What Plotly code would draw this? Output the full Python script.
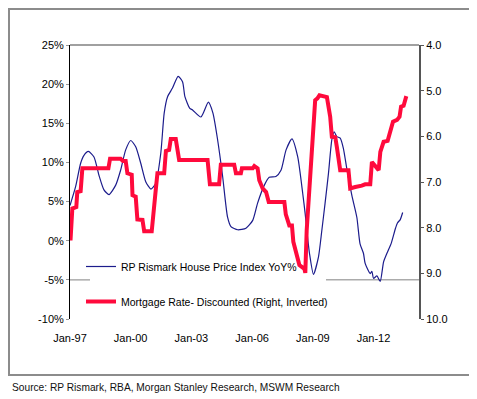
import plotly.graph_objects as go

# ---------------- data ----------------
hpi_dates = ["1997-01-01", "1997-04-12", "1997-07-12", "1997-09-10", "1997-11-28", "1998-03-10",
             "1998-06-06", "1998-09-06", "1998-12-06", "1999-04-06", "1999-07-03", "1999-10-03",
             "2000-01-03", "2000-04-01", "2000-07-01", "2000-10-01", "2001-01-01", "2001-03-28",
             "2001-06-28", "2001-08-28", "2001-10-28", "2002-01-25", "2002-05-06", "2002-07-25",
             "2002-09-06", "2002-12-03", "2003-01-22", "2003-06-22", "2003-11-03", "2004-01-25",
             "2004-04-18", "2004-07-18", "2004-10-15", "2004-12-15", "2005-04-15", "2005-09-12",
             "2006-01-12", "2006-04-10", "2006-08-10", "2006-11-06", "2007-03-06", "2007-06-06",
             "2007-09-06", "2007-12-21", "2008-04-03", "2008-07-03", "2008-08-15", "2008-10-03",
             "2008-11-01", "2009-01-12", "2009-04-12", "2009-06-12", "2009-08-10", "2009-10-10",
             "2009-12-10", "2010-01-22", "2010-03-10", "2010-05-10", "2010-07-06", "2010-09-06",
             "2010-12-06", "2011-03-06", "2011-05-03", "2011-07-03", "2011-08-03", "2011-11-03",
             "2011-12-03", "2012-01-01", "2012-03-03", "2012-05-01", "2012-07-01", "2012-09-12",
             "2012-11-12", "2013-02-01", "2013-03-10", "2013-04-28", "2013-06-10"]
hpi_values = [4.5, 6.9, 9.9, 10.9, 11.4, 10.7,
              8.4, 6.5, 5.9, 7.1, 9.0, 11.6,
              12.8, 12.0, 9.9, 7.5, 6.6, 7.3,
              11.2, 16.3, 18.4, 19.5, 21.0, 20.3,
              18.4, 16.9, 16.7, 15.8, 17.7, 16.3,
              12.9, 8.2, 3.0, 1.8, 1.4, 1.6,
              2.6, 4.8, 7.1, 8.1, 8.2, 9.0,
              11.6, 13.0, 10.7, 6.0, 3.5, 0.1,
              -1.6, -4.3, -2.1, 1.3, 4.8, 8.6,
              12.9, 13.9, 13.3, 13.1, 11.8, 9.2,
              5.8, 3.0, -0.4, -1.6, -2.9, -4.2,
              -3.9, -4.8, -4.5, -5.2, -2.7, -1.4,
              -0.4, 1.6, 2.3, 2.7, 3.6]

rate_dates = ["1997-01-10", "1997-02-12", "1997-04-25", "1997-05-12", "1997-07-12", "1997-08-12",
              "1998-11-25", "1998-12-25", "1999-07-03", "1999-08-15", "1999-10-03", "1999-11-03",
              "2000-01-20", "2000-02-03", "2000-04-01", "2000-05-01", "2000-08-01", "2000-09-01",
              "2001-01-15", "2001-02-10", "2001-03-28", "2001-04-28", "2001-08-28", "2001-09-28",
              "2001-11-25", "2001-12-25", "2002-03-25", "2002-05-25", "2003-10-20", "2003-12-01",
              "2004-05-15", "2004-06-15", "2005-02-12", "2005-03-15", "2005-06-12", "2005-07-01",
              "2006-01-12", "2006-02-10", "2006-04-10", "2006-05-10", "2006-07-10", "2006-09-10",
              "2006-10-28", "2007-08-06", "2007-09-01", "2007-11-03", "2007-12-21", "2008-01-15",
              "2008-03-03", "2008-05-03", "2008-08-01", "2008-08-18", "2008-09-12", "2008-11-12",
              "2009-01-01", "2009-01-25", "2009-02-12", "2009-03-25", "2009-05-01", "2009-09-12",
              "2009-11-10", "2009-12-10", "2010-02-10", "2010-03-10", "2010-05-10", "2010-10-06",
              "2010-11-06", "2011-02-06", "2011-04-03", "2011-06-03", "2011-08-03", "2011-11-03",
              "2011-12-03", "2012-02-03", "2012-04-03", "2012-05-03", "2012-07-01", "2012-09-12",
              "2012-11-01", "2012-12-18", "2013-03-01", "2013-04-15", "2013-05-12", "2013-06-27",
              "2013-08-15"]
rate_values = [8.28, 7.58, 7.55, 7.22, 7.20, 6.70,
               6.70, 6.49, 6.49, 6.54, 6.54, 6.81,
               6.84, 7.29, 7.32, 7.82, 7.83, 8.08,
               8.08, 7.69, 7.18, 6.81, 6.81, 6.32,
               6.30, 6.06, 6.06, 6.52, 6.52, 7.05,
               7.05, 6.62, 6.62, 6.81, 6.81, 6.70,
               6.70, 6.65, 6.70, 6.96, 7.14, 7.22,
               7.44, 7.44, 7.71, 7.95, 7.95, 8.31,
               8.53, 8.82, 8.90, 8.99, 8.06, 6.96,
               6.19, 5.72, 5.21, 5.17, 5.10, 5.14,
               5.57, 6.01, 6.02, 6.23, 6.74, 6.74,
               7.14, 7.11, 7.10, 7.08, 7.05, 7.05,
               6.56, 6.67, 6.74, 6.34, 6.12, 6.10,
               5.86, 5.68, 5.64, 5.57, 5.35, 5.33,
               5.12]

hpi_name = "RP Rismark House Price Index YoY%"
rate_name = "Mortgage Rate- Discounted (Right, Inverted)"
source_text = "Source: RP Rismark, RBA, Morgan Stanley Research, MSWM Research"

left_ticks = [-10, -5, 0, 5, 10, 15, 20, 25]
grid_ticks = [5, 10, 15, 20]
right_ticks = [4, 5, 6, 7, 8, 9, 10]

# ---------------- layout constants (page pixels; body has an 8px margin) ----------------
OFF = 8
W, H = 477 - OFF, 399 - OFF
PLOT_L, PLOT_R, PLOT_T, PLOT_B = 70, 419, 45, 319          # page pixels
L, T = PLOT_L - OFF, PLOT_T - OFF
R, B = W - (PLOT_R - OFF), H - (PLOT_B - OFF)
PW, PH = W - L - R, H - T - B


def px_x(p):
    return (p - OFF - L) / PW


def px_y(p):
    return (H - B - (p - OFF)) / PH


FONT = "Liberation Sans, Arial, sans-serif"
TXT = dict(family=FONT, size=11, color="#000000")
LEG = dict(family=FONT, size=10.5, color="#000000")

fig = go.Figure()
fig.add_trace(go.Scatter(
    x=hpi_dates, y=hpi_values, name=hpi_name, mode="lines",
    line=dict(color="#1C1C8C", width=1.2, shape="spline", smoothing=0.6),
    legendgroup="a", xaxis="x", yaxis="y"))
fig.add_trace(go.Scatter(
    x=rate_dates, y=rate_values, name=rate_name, mode="lines",
    line=dict(color="#FF0A3C", width=4),
    legendgroup="b", xaxis="x", yaxis="y2"))

xr = ["1997-01-01", "2014-04-01"]
grid_style = dict(color="#ABABAB", width=1.5)
fig.update_layout(
    width=W, height=H,
    margin=dict(l=L, r=R, t=T, b=B),
    paper_bgcolor="white", plot_bgcolor="white",
    font=TXT,
    showlegend=True,
    legend=dict(x=px_x(81), y=px_y(252), xanchor="left", yanchor="top",
                bgcolor="rgba(0,0,0,0)", borderwidth=0, font=LEG,
                traceorder="grouped", tracegroupgap=16),
    xaxis=dict(range=xr, type="date", tickformat="%b-%y", dtick="M36",
               tick0="1997-01-01", showgrid=False, showline=False, zeroline=False,
               ticks="outside", ticklen=9, tickcolor="rgba(0,0,0,0)",
               tickfont=TXT),
    xaxis2=dict(range=xr, type="date", overlaying="x", anchor="free",
                position=10 / 35, dtick="M36", tick0="1997-01-01",
                showticklabels=False, showgrid=False, zeroline=False,
                showline=True, linecolor="#333333", linewidth=1.5,
                ticks="outside", ticklen=4, tickcolor="#333333",
                minor=dict(dtick="M12", ticks="outside", ticklen=3,
                           tickcolor="#333333", showgrid=False)),
    yaxis=dict(range=[-10, 25], tickvals=left_ticks,
               ticktext=[f"{v}%" for v in left_ticks],
               showgrid=False, zeroline=False, showline=True,
               linecolor="#000000", linewidth=1,
               ticks="outside", ticklen=3, tickcolor="#999999", tickfont=TXT),
    yaxis3=dict(range=[-10, 25], overlaying="y", tickvals=grid_ticks,
                showticklabels=False, showgrid=True, gridcolor=grid_style["color"],
                gridwidth=grid_style["width"], zeroline=False, showline=False),
    yaxis2=dict(range=[10, 4], tickvals=right_ticks, tickformat=".1f",
                overlaying="y", side="right", anchor="x",
                showgrid=False, zeroline=False, showline=True,
                linecolor="#555555", linewidth=2,
                ticks="outside", ticklen=3, tickcolor="#555555", tickfont=TXT),
    shapes=[
        # darker top gridline (25%)
        dict(type="line", xref="paper", yref="paper", x0=0, x1=1, y0=1, y1=1,
             line=dict(color="#808080", width=1.5)),
        # -5% gridline, interrupted by the legend box
        dict(type="line", xref="paper", yref="y", x0=0, x1=px_x(90), y0=-5, y1=-5,
             line=grid_style, layer="below"),
        dict(type="line", xref="paper", yref="y", x0=px_x(326), x1=1, y0=-5, y1=-5,
             line=grid_style, layer="below"),
        # outer chart frame
        dict(type="rect", xref="paper", yref="paper",
             x0=px_x(OFF + 1), x1=px_x(471), y0=px_y(375), y1=px_y(OFF + 1),
             line=dict(color="#8C8C8C", width=2), fillcolor="rgba(0,0,0,0)",
             layer="below"),
    ],
    annotations=[
        dict(text=source_text, xref="paper", yref="paper",
             x=px_x(10), y=px_y(387), xanchor="left", yanchor="middle",
             showarrow=False,
             font=dict(family=FONT, size=10.2, color="#111111")),
    ],
)

fig.write_html("out.html")
